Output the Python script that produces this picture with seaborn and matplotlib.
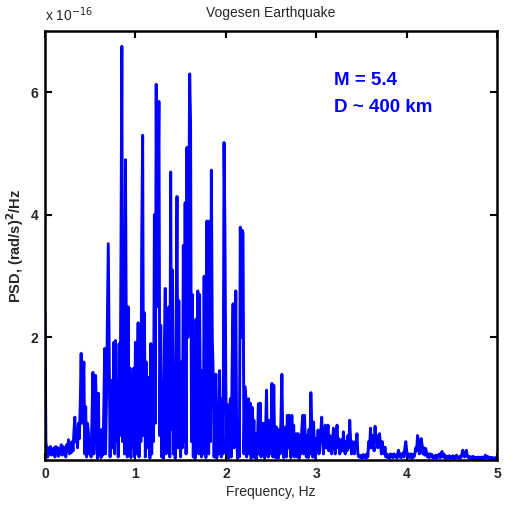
import numpy as np
import pandas as pd
import matplotlib
matplotlib.use("Agg")
import matplotlib.pyplot as plt
import seaborn as sns

# Power spectral density of the Vogesen earthquake record, in units of 1e-16 (rad/s)^2/Hz,
# sampled every 0.01 Hz from 0 to 5 Hz (one row per 0.1 Hz).
psd_e16 = [
    2.4, 0.3, 0.15, 0.05, 0.2, 0.1, 0.22, 0.08, 0.18, 0.1,
    0.2, 0.05, 0.22, 0.12, 0.2, 0.06, 0.18, 0.1, 0.25, 0.08,
    0.22, 0.1, 0.2, 0.05, 0.25, 0.15, 0.33, 0.1, 0.28, 0.12,
    0.3, 0.15, 0.45, 0.7, 0.3, 0.5, 0.2, 0.6, 0.35, 0.9,
    1.74, 0.6, 1.2, 1.6, 0.1, 0.87, 0.05, 0.6, 0.45, 0.1,
    0.33, 0.05, 0.7, 1.43, 0.1, 1.25, 1.38, 0.55, 0.03, 1.09,
    0.1, 0.45, 0.04, 0.5, 0.08, 0.78, 1.82, 0.1, 1.0, 2.2,
    3.53, 1.68, 0.05, 1.0, 1.3, 0.2, 1.92, 0.1, 1.95, 0.3,
    1.0, 0.05, 1.9, 0.4, 3.2, 6.75, 0.3, 2.4, 0.1, 4.9,
    1.8, 0.05, 2.5, 0.3, 1.5, 0.04, 1.4, 0.2, 1.5, 0.05,
    1.92, 0.1, 1.2, 2.24, 0.05, 1.8, 0.3, 3.6, 5.3, 0.4,
    2.4, 0.05, 1.6, 0.2, 1.2, 1.35, 0.03, 1.9, 0.1, 1.1,
    0.3, 4.0, 0.6, 6.13, 2.5, 4.2, 5.85, 0.4, 2.2, 0.05,
    1.1, 0.03, 1.8, 2.8, 0.1, 1.6, 0.3, 2.5, 0.05, 4.7,
    0.5, 3.1, 0.1, 1.2, 0.03, 2.0, 4.3, 0.2, 2.6, 0.4,
    0.05, 1.6, 0.2, 3.5, 0.3, 4.2, 0.1, 5.1, 2.0, 3.8,
    6.3, 5.5, 0.3, 2.7, 0.05, 1.6, 0.03, 2.3, 0.2, 2.76,
    0.1, 2.7, 0.4, 0.05, 1.46, 0.1, 3.0, 0.3, 0.04, 3.9,
    2.0, 0.1, 3.9, 0.3, 4.73, 2.0, 1.4, 0.05, 1.0, 1.4,
    0.03, 0.8, 0.1, 1.46, 0.2, 0.05, 1.0, 0.1, 5.18, 3.74,
    1.2, 0.1, 0.9, 0.03, 0.65, 1.0, 0.05, 1.6, 2.55, 0.2,
    1.2, 2.76, 0.3, 0.03, 0.6, 0.05, 3.8, 2.0, 3.75, 3.7,
    0.1, 1.2, 1.05, 0.05, 0.8, 1.0, 0.1, 0.93, 0.03, 0.86,
    0.1, 0.65, 0.04, 0.43, 0.02, 0.3, 0.92, 0.1, 0.93, 0.05,
    0.6, 0.1, 0.6, 0.03, 0.5, 1.14, 0.1, 0.05, 0.65, 0.1,
    0.2, 1.25, 0.05, 1.22, 0.2, 0.04, 0.54, 0.1, 0.03, 0.5,
    0.1, 0.7, 1.4, 0.3, 0.04, 0.4, 0.54, 0.05, 0.73, 0.2,
    0.73, 0.2, 0.04, 0.73, 0.1, 0.57, 0.05, 0.3, 0.43, 0.05,
    0.43, 0.03, 0.4, 0.1, 0.5, 0.73, 0.1, 0.73, 0.3, 0.05,
    0.4, 0.04, 0.5, 0.1, 1.1, 0.6, 0.05, 0.62, 0.2, 0.03,
    0.35, 0.2, 0.49, 0.1, 0.3, 0.45, 0.7, 0.3, 0.1, 0.4,
    0.57, 0.2, 0.3, 0.57, 0.15, 0.4, 0.25, 0.1, 0.3, 0.52,
    0.3, 0.1, 0.4, 0.57, 0.2, 0.35, 0.1, 0.2, 0.33, 0.15,
    0.46, 0.2, 0.1, 0.3, 0.15, 0.4, 0.2, 0.65, 0.3, 0.1,
    0.3, 0.24, 0.1, 0.3, 0.2, 0.43, 0.1, 0.05, 0.08, 0.04,
    0.07, 0.03, 0.09, 0.05, 0.08, 0.03, 0.1, 0.05, 0.3, 0.2,
    0.52, 0.2, 0.4, 0.3, 0.15, 0.55, 0.3, 0.4, 0.2, 0.3,
    0.43, 0.25, 0.1, 0.3, 0.15, 0.1, 0.21, 0.05, 0.1, 0.04,
    0.08, 0.03, 0.1, 0.05, 0.09, 0.04, 0.1, 0.06, 0.08, 0.03,
    0.1, 0.16, 0.05, 0.1, 0.04, 0.08, 0.12, 0.05, 0.2, 0.3,
    0.15, 0.05, 0.1, 0.04, 0.08, 0.1, 0.03, 0.09, 0.05, 0.1,
    0.2, 0.15, 0.4, 0.3, 0.1, 0.2, 0.35, 0.25, 0.1, 0.2,
    0.08, 0.19, 0.12, 0.05, 0.1, 0.04, 0.1, 0.06, 0.09, 0.03,
    0.06, 0.04, 0.08, 0.03, 0.07, 0.05, 0.1, 0.04, 0.06, 0.14,
    0.05, 0.1, 0.04, 0.07, 0.03, 0.06, 0.04, 0.07, 0.03, 0.05,
    0.04, 0.07, 0.02, 0.06, 0.03, 0.08, 0.04, 0.05, 0.03, 0.06,
    0.04, 0.1, 0.16, 0.08, 0.05, 0.1, 0.16, 0.07, 0.04, 0.06,
    0.03, 0.05, 0.02, 0.06, 0.03, 0.05, 0.02, 0.04, 0.03, 0.05,
    0.02, 0.04, 0.03, 0.05, 0.02, 0.04, 0.03, 0.08, 0.04, 0.06,
    0.03, 0.05, 0.02, 0.04, 0.03, 0.04, 0.02, 0.03, 0.04, 0.02,
    0.03,
]
freq_step_hz = 0.01
x_ticks = [0, 1, 2, 3, 4, 5]
y_ticks = [2, 4, 6]
title = "Vogesen Earthquake"
x_label = "Frequency, Hz"
y_label = "PSD, (rad/s)$^{\\mathbf{2}}$/Hz"
note_lines = ["M = 5.4", "D ~ 400 km"]

freq_hz = np.arange(len(psd_e16)) * freq_step_hz
df = pd.DataFrame({"freq": freq_hz, "psd": psd_e16})

sns.set_theme(style="white")
plt.rcParams["font.family"] = ["Liberation Sans", "DejaVu Sans"]

fig = plt.figure(figsize=(5.2, 5.05), dpi=100)
ax = fig.add_axes([0.0865, 0.089, 0.8695, 0.8496])

sns.lineplot(data=df, x="freq", y="psd", ax=ax, color="#0000ff",
             linewidth=2.1, sort=False, estimator=None)

ax.set_xlim(0, 5)
ax.set_ylim(0, 7)
ax.set_xticks(x_ticks)
ax.set_yticks(y_ticks)
ax.set_xticklabels([str(t) for t in x_ticks], fontweight="bold", fontsize=10)
ax.set_yticklabels([str(t) for t in y_ticks], fontweight="bold", fontsize=10)
ax.tick_params(direction="in", length=5, width=1.5, color="black",
               top=True, right=True, bottom=True, left=True, pad=5)
for side in ax.spines.values():
    side.set_color("black")
    side.set_linewidth(1.8)

ax.set_xlabel(x_label, fontsize=10, labelpad=3)
ax.set_ylabel(y_label, fontsize=10.5, fontweight="bold", labelpad=3)
ax.set_title(title, fontsize=10, pad=10)

fig.text(0.087, 0.958, "x 10$^{-16}$", fontsize=10, ha="left", va="baseline")

ax.text(0.64, 0.875, note_lines[0], transform=ax.transAxes, color="#0000ff",
        fontsize=13.5, fontweight="bold", ha="left", va="baseline")
ax.text(0.64, 0.812, note_lines[1], transform=ax.transAxes, color="#0000ff",
        fontsize=13.5, fontweight="bold", ha="left", va="baseline")

fig.savefig("out.png", dpi=100, facecolor="white")
